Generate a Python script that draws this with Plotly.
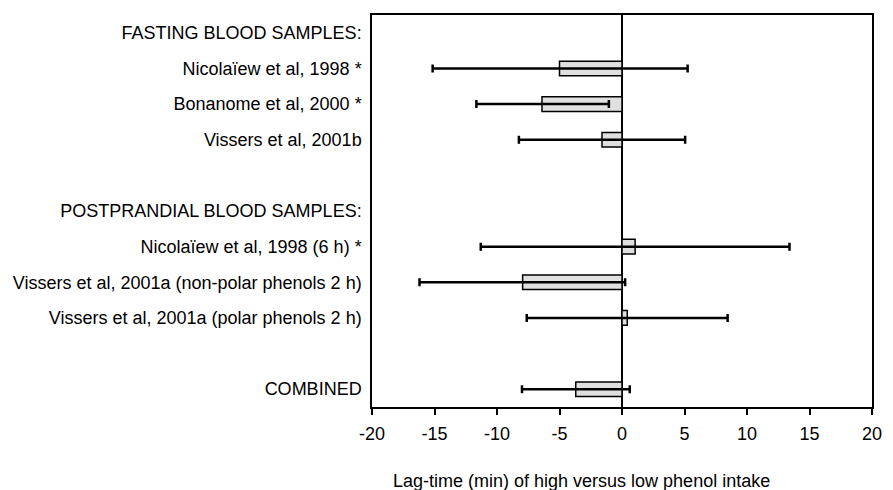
import plotly.graph_objects as go

labels = [
    "FASTING BLOOD SAMPLES:",
    "Nicolaïew et al, 1998 *",
    "Bonanome et al, 2000 *",
    "Vissers et al, 2001b",
    "",
    "POSTPRANDIAL BLOOD SAMPLES:",
    "Nicolaïew et al, 1998 (6 h) *",
    "Vissers et al, 2001a (non-polar phenols 2 h)",
    "Vissers et al, 2001a (polar phenols 2 h)",
    "",
    "COMBINED",
]
values = [None, -5.0, -6.4, -1.6, None, None, 1.05, -7.95, 0.42, None, -3.7]
ci_low = [None, -15.15, -11.65, -8.25, None, None, -11.3, -16.2, -7.62, None, -8.0]
ci_high = [None, 5.25, -1.05, 5.05, None, None, 13.4, 0.25, 8.45, None, 0.62]
x_ticks = [-20, -15, -10, -5, 0, 5, 10, 15, 20]
x_tick_text = ["-20", "-15", "-10", "-5", "0", "5", "10", "15", "20"]
x_title = "Lag-time (min) of high versus low phenol intake"

rows = list(range(len(labels)))
plus = [None if v is None else h - v for v, h in zip(values, ci_high)]
minus = [None if v is None else v - l for v, l in zip(values, ci_low)]

FONT = "Liberation Sans, Arial, Helvetica, sans-serif"
OFF = 8  # page body margin

fig = go.Figure()
fig.add_trace(go.Bar(
    x=values,
    y=rows,
    orientation="h",
    width=0.41,
    marker=dict(color="#e0e0e0", line=dict(color="black", width=1.5)),
    error_x=dict(type="data", symmetric=False, array=plus, arrayminus=minus,
                 color="black", thickness=2.5, width=4),
    showlegend=False,
    hoverinfo="skip",
))

fig.update_layout(
    width=893 - OFF, height=490 - OFF,
    margin=dict(l=368 - OFF, r=21, t=13 - OFF, b=83),
    paper_bgcolor="white", plot_bgcolor="white",
    font=dict(family=FONT, size=18, color="black"),
    xaxis=dict(
        range=[-20, 20],
        tickvals=x_ticks, ticktext=x_tick_text,
        ticks="outside", ticklen=6, tickwidth=1.5, tickcolor="black",
        showline=True, linecolor="black", linewidth=1.5, mirror=True,
        showgrid=False,
        zeroline=True, zerolinecolor="black", zerolinewidth=2,
        ticklabelstandoff=4,
        tickfont=dict(size=18),
    ),
    yaxis=dict(
        range=[len(labels) - 0.5, -0.5],
        tickvals=rows, ticktext=labels,
        ticks="", showgrid=False, zeroline=False,
        showline=True, linecolor="black", linewidth=1.5, mirror=True,
        ticklabelstandoff=5,
        tickfont=dict(size=18),
    ),
    annotations=[dict(
        text=x_title, xref="paper", yref="paper",
        x=(579 - 368) / 504, y=(407 - 481) / 394,
        xanchor="center", yanchor="middle", showarrow=False,
        font=dict(size=18, family=FONT),
    )],
)

fig.write_html("out.html")
